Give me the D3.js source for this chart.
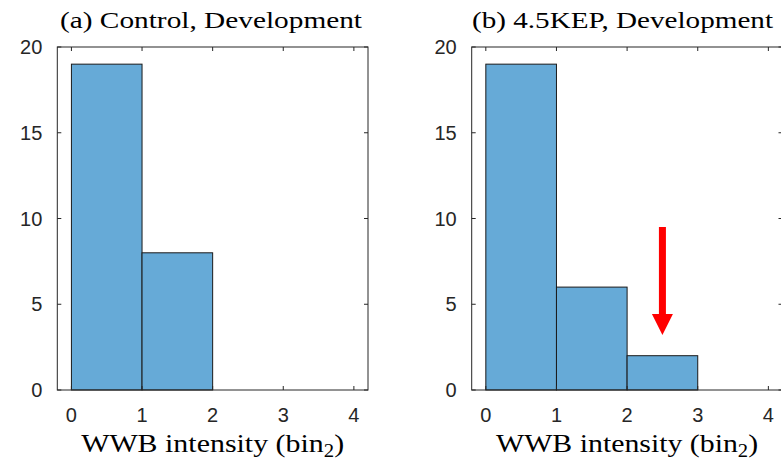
<!DOCTYPE html>
<html><head><meta charset="utf-8">
<script src="https://cdn.jsdelivr.net/npm/d3@7"></script>
<style>body{margin:0;background:#fff}svg{display:block}</style>
</head><body>
<script>
const binEdges = [0, 1, 2, 3, 4];
const controlCounts = [19, 8, 0, 0];
const kepCounts = [19, 6, 2, 0];
const xTicks = [0, 1, 2, 3, 4];
const yTicks = [0, 5, 10, 15, 20];
const titles = ["(a) Control, Development", "(b) 4.5KEP, Development"];
const xLabelMain = "WWB intensity (bin";
const xLabelSub = "2";
const arrowX = 2.5, arrowFrom = 9.5, arrowTo = 3.2;

const W = 781, H = 462;
const svg = d3.select("body").append("svg").attr("width", W).attr("height", H);

const panels = [
  {left: 57.3, right: 368, counts: controlCounts, title: titles[0], titleX: 60, titleW: 302, labelW: 263, arrow: false},
  {left: 471.7, right: 782.5, counts: kepCounts, title: titles[1], titleX: 472, titleW: 301, labelW: 262, arrow: true}
];
const plotTop = 47, plotBottom = 390;
const axisColor = "#262626";
const tickFont = "'Liberation Sans', Arial, sans-serif";
const serif = "'Liberation Serif', 'Times New Roman', serif";

panels.forEach(p => {
  const x = d3.scaleLinear().domain([-0.2, 4.2]).range([p.left, p.right]);
  const y = d3.scaleLinear().domain([0, 20]).range([plotBottom, plotTop]);
  const g = svg.append("g");

  const bins = p.counts.map((c, i) => ({x0: binEdges[i], x1: binEdges[i + 1], c}));
  g.selectAll("rect.bar").data(bins.filter(b => b.c > 0)).enter().append("rect")
    .attr("x", d => x(d.x0)).attr("width", d => x(d.x1) - x(d.x0))
    .attr("y", d => y(d.c)).attr("height", d => y(0) - y(d.c))
    .attr("fill", "#66aad7").attr("stroke", "#1a1a1a").attr("stroke-width", 1);

  const tl = 4;
  const ax = g.append("g").attr("stroke", axisColor).attr("stroke-width", 1).attr("fill", "none");
  ax.append("rect").attr("x", p.left).attr("y", plotTop).attr("width", p.right - p.left).attr("height", plotBottom - plotTop);
  xTicks.forEach(t => {
    ax.append("line").attr("x1", x(t)).attr("x2", x(t)).attr("y1", plotBottom).attr("y2", plotBottom - tl);
    ax.append("line").attr("x1", x(t)).attr("x2", x(t)).attr("y1", plotTop).attr("y2", plotTop + tl);
  });
  yTicks.forEach(t => {
    ax.append("line").attr("x1", p.left).attr("x2", p.left + tl).attr("y1", y(t)).attr("y2", y(t));
    ax.append("line").attr("x1", p.right).attr("x2", p.right - tl).attr("y1", y(t)).attr("y2", y(t));
  });

  g.selectAll("text.xt").data(xTicks).enter().append("text")
    .attr("x", d => x(d)).attr("y", 422).attr("text-anchor", "middle")
    .attr("font-family", tickFont).attr("font-size", 20).attr("fill", axisColor).text(d => d);
  g.selectAll("text.yt").data(yTicks).enter().append("text")
    .attr("x", p.left - 15).attr("y", d => y(d) + 7).attr("text-anchor", "end")
    .attr("font-family", tickFont).attr("font-size", 20).attr("fill", axisColor).text(d => d);

  const cx = (p.left + p.right) / 2;
  g.append("text").attr("x", p.titleX).attr("y", 28).attr("text-anchor", "start")
    .attr("font-family", serif).attr("font-size", 23).attr("fill", "#000")
    .attr("textLength", p.titleW).attr("lengthAdjust", "spacingAndGlyphs").text(p.title);
  const xl = g.append("text").attr("x", cx - p.labelW / 2).attr("y", 452).attr("text-anchor", "start")
    .attr("font-family", serif).attr("font-size", 26).attr("fill", "#000")
    .attr("textLength", p.labelW).attr("lengthAdjust", "spacingAndGlyphs");
  xl.append("tspan").text(xLabelMain);
  xl.append("tspan").attr("font-size", 18).attr("dy", 5).text(xLabelSub);
  xl.append("tspan").attr("dy", -5).text(")");

  if (p.arrow) {
    const ys = y(arrowFrom), ye = y(arrowTo), ax0 = x(arrowX);
    const headLen = 21, headW = 21, shaftW = 7;
    g.append("path")
      .attr("d", `M${ax0 - shaftW/2},${ys} L${ax0 + shaftW/2},${ys} L${ax0 + shaftW/2},${ye - headLen} L${ax0 + headW/2},${ye - headLen} L${ax0},${ye} L${ax0 - headW/2},${ye - headLen} L${ax0 - shaftW/2},${ye - headLen} Z`)
      .attr("fill", "#ff0000");
  }
});
</script>
</body></html>
